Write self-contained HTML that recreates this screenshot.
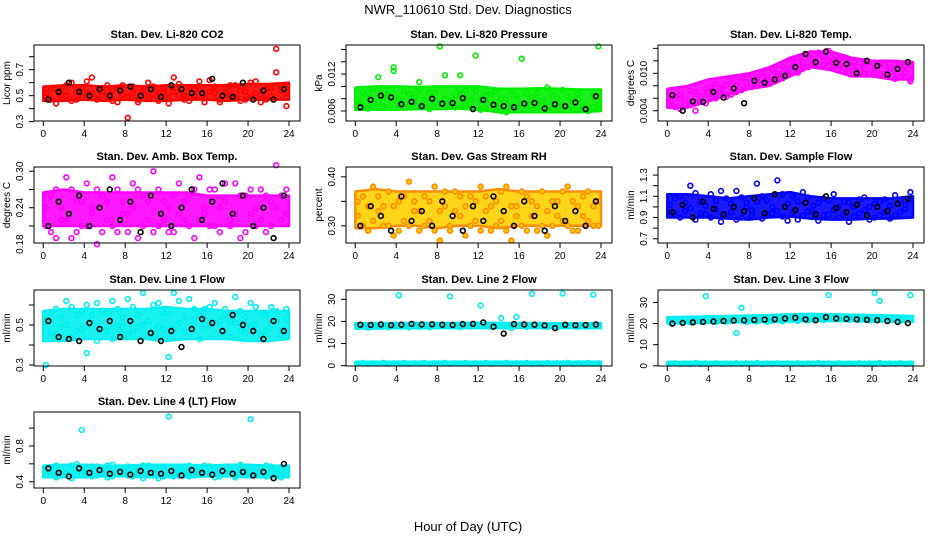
<!DOCTYPE html>
<html><head><meta charset="utf-8">
<style>
body{margin:0;background:#fff;}
svg{display:block;font-family:"Liberation Sans",Arial,sans-serif;}
</style></head>
<body>
<svg id="chart" width="936" height="540" viewBox="0 0 936 540">
<rect width="936" height="540" fill="#fff"/>
<text x="468" y="14" text-anchor="middle" font-size="13">NWR_110610  Std. Dev. Diagnostics</text>
<text x="468" y="531" text-anchor="middle" font-size="13">Hour of Day (UTC)</text>
</svg>
<script>
const hours48 = [0.25,0.75,1.25,1.75,2.25,2.75,3.25,3.75,4.25,4.75,5.25,5.75,6.25,6.75,7.25,7.75,8.25,8.75,9.25,9.75,10.25,10.75,11.25,11.75,12.25,12.75,13.25,13.75,14.25,14.75,15.25,15.75,16.25,16.75,17.25,17.75,18.25,18.75,19.25,19.75,20.25,20.75,21.25,21.75,22.25,22.75,23.25,23.75];
const hoursBlack = [0.5,1.5,2.5,3.5,4.5,5.5,6.5,7.5,8.5,9.5,10.5,11.5,12.5,13.5,14.5,15.5,16.5,17.5,18.5,19.5,20.5,21.5,22.5,23.5];
const bandHours = [0,2,4,6,8,10,12,14,16,18,20,22,24];
const xTicks = [0,4,8,12,16,20,24];

const co2A = [0.52,0.47,0.55,0.50,0.58,0.46,0.53,0.49,0.61,0.51,0.47,0.56,0.50,0.54,0.45,0.58,0.33,0.52,0.47,0.56,0.50,0.57,0.46,0.53,0.49,0.64,0.51,0.47,0.56,0.50,0.54,0.45,0.62,0.52,0.47,0.56,0.50,0.58,0.46,0.53,0.49,0.61,0.51,0.47,0.56,0.68,0.54,0.42];
const co2B = [0.49,0.56,0.44,0.54,0.50,0.60,0.47,0.55,0.52,0.64,0.48,0.53,0.58,0.46,0.55,0.51,0.49,0.57,0.45,0.54,0.60,0.48,0.52,0.56,0.44,0.53,0.59,0.50,0.46,0.55,0.61,0.48,0.53,0.57,0.45,0.52,0.58,0.49,0.54,0.47,0.60,0.52,0.45,0.55,0.50,0.86,0.57,0.49];
const co2K = [0.47,0.53,0.60,0.53,0.50,0.55,0.50,0.54,0.57,0.50,0.55,0.49,0.58,0.55,0.52,0.52,0.63,0.50,0.49,0.60,0.47,0.54,0.47,0.55];
const co2Lo = [0.46,0.46,0.47,0.46,0.47,0.46,0.46,0.47,0.47,0.46,0.47,0.47,0.47];
const co2Hi = [0.57,0.58,0.58,0.57,0.58,0.57,0.58,0.58,0.58,0.58,0.59,0.59,0.60];

const presA = [0.0075,0.0068,0.0088,0.0072,0.0115,0.0066,0.0085,0.0125,0.0070,0.0092,0.0069,0.0082,0.0107,0.0067,0.0090,0.0073,0.0165,0.0080,0.0068,0.0086,0.0118,0.0094,0.0066,0.0150,0.0078,0.0064,0.0088,0.0069,0.0080,0.0058,0.0067,0.0084,0.0145,0.0070,0.0082,0.0066,0.0076,0.0098,0.0064,0.0080,0.0070,0.0084,0.0063,0.0079,0.0068,0.0062,0.0066,0.0165];
const presB = [0.0070,0.0090,0.0064,0.0096,0.0074,0.0083,0.0094,0.0131,0.0080,0.0066,0.0088,0.0074,0.0095,0.0078,0.0063,0.0090,0.0072,0.0118,0.0076,0.0066,0.0088,0.0070,0.0079,0.0093,0.0062,0.0085,0.0074,0.0091,0.0060,0.0078,0.0092,0.0066,0.0073,0.0088,0.0063,0.0090,0.0070,0.0062,0.0086,0.0068,0.0094,0.0062,0.0075,0.0088,0.0066,0.0060,0.0085,0.0070];
const presK = [0.0066,0.0078,0.0085,0.0082,0.0071,0.0075,0.0068,0.0080,0.0072,0.0073,0.0081,0.0063,0.0078,0.0070,0.0068,0.0066,0.0072,0.0073,0.0064,0.0071,0.0068,0.0074,0.0063,0.0084];
const presLo = [0.0062,0.0062,0.0062,0.0063,0.0063,0.0064,0.0062,0.0058,0.0058,0.0058,0.0058,0.0058,0.0060];
const presHi = [0.0098,0.0100,0.0100,0.0099,0.0100,0.0100,0.0100,0.0096,0.0096,0.0097,0.0096,0.0095,0.0095];

const tempA = [0.0055,0.0046,0.0066,0.0050,0.0072,0.0040,0.0063,0.0052,0.0078,0.0060,0.0070,0.0082,0.0066,0.0080,0.0073,0.0086,0.0078,0.0090,0.0082,0.0095,0.0087,0.0099,0.0092,0.0104,0.0110,0.0101,0.0117,0.0110,0.0124,0.0115,0.0127,0.0120,0.0112,0.0122,0.0108,0.0118,0.0111,0.0102,0.0115,0.0099,0.0109,0.0097,0.0113,0.0102,0.0107,0.0094,0.0111,0.0090];
const tempB = [0.0048,0.0063,0.0043,0.0058,0.0049,0.0070,0.0055,0.0075,0.0067,0.0083,0.0075,0.0062,0.0090,0.0070,0.0092,0.0079,0.0097,0.0084,0.0101,0.0088,0.0106,0.0092,0.0111,0.0099,0.0119,0.0125,0.0110,0.0129,0.0117,0.0133,0.0113,0.0136,0.0121,0.0113,0.0126,0.0104,0.0119,0.0110,0.0099,0.0118,0.0103,0.0116,0.0099,0.0108,0.0091,0.0116,0.0101,0.0087];
const tempK = [0.0065,0.0040,0.0055,0.0054,0.0070,0.0061,0.0076,0.0052,0.0088,0.0085,0.0090,0.0096,0.0110,0.0131,0.0118,0.0135,0.0117,0.0115,0.0100,0.0120,0.0112,0.0098,0.0107,0.0118];
const tempLo = [0.0045,0.0045,0.0055,0.0065,0.0075,0.0080,0.0095,0.0110,0.0105,0.0095,0.0095,0.0090,0.0090];
const tempHi = [0.0075,0.0080,0.0090,0.0095,0.0100,0.0110,0.0125,0.0135,0.0135,0.0125,0.0120,0.0120,0.0118];

const ambA = [0.24,0.20,0.27,0.22,0.29,0.19,0.25,0.21,0.28,0.23,0.18,0.26,0.22,0.29,0.20,0.25,0.23,0.28,0.19,0.26,0.22,0.30,0.21,0.25,0.24,0.20,0.28,0.22,0.26,0.19,0.29,0.23,0.21,0.27,0.20,0.25,0.22,0.28,0.19,0.26,0.23,0.21,0.27,0.20,0.25,0.31,0.22,0.27];
const ambB = [0.21,0.26,0.19,0.24,0.22,0.27,0.20,0.25,0.21,0.24,0.27,0.20,0.25,0.21,0.27,0.23,0.20,0.24,0.27,0.21,0.25,0.20,0.27,0.22,0.20,0.26,0.23,0.25,0.21,0.27,0.22,0.24,0.27,0.21,0.24,0.28,0.21,0.23,0.26,0.20,0.27,0.24,0.22,0.26,0.21,0.24,0.26,0.23];
const ambK = [0.21,0.25,0.23,0.26,0.21,0.24,0.27,0.22,0.25,0.20,0.26,0.23,0.21,0.24,0.27,0.22,0.25,0.28,0.23,0.26,0.21,0.24,0.19,0.26];
const ambLo = [0.21,0.21,0.21,0.21,0.21,0.21,0.21,0.21,0.21,0.21,0.21,0.21,0.21];
const ambHi = [0.265,0.27,0.265,0.265,0.265,0.265,0.265,0.265,0.26,0.26,0.26,0.26,0.26];

const rhA = [0.32,0.36,0.29,0.38,0.33,0.30,0.37,0.28,0.35,0.31,0.39,0.33,0.29,0.36,0.31,0.38,0.27,0.34,0.30,0.37,0.32,0.28,0.36,0.31,0.38,0.33,0.29,0.35,0.31,0.38,0.27,0.34,0.30,0.36,0.32,0.29,0.37,0.33,0.30,0.35,0.31,0.38,0.29,0.34,0.32,0.37,0.30,0.35];
const rhB = [0.35,0.30,0.34,0.31,0.36,0.34,0.30,0.34,0.29,0.36,0.30,0.35,0.33,0.30,0.35,0.29,0.33,0.37,0.29,0.33,0.36,0.34,0.30,0.35,0.29,0.36,0.34,0.30,0.37,0.29,0.34,0.32,0.37,0.29,0.35,0.34,0.30,0.28,0.35,0.32,0.37,0.30,0.35,0.29,0.36,0.31,0.34,0.30];
const rhK = [0.30,0.34,0.32,0.29,0.36,0.31,0.33,0.30,0.35,0.32,0.29,0.34,0.31,0.36,0.33,0.30,0.35,0.32,0.29,0.34,0.31,0.33,0.30,0.35];
const rhLo = [0.295,0.295,0.30,0.30,0.295,0.30,0.30,0.295,0.30,0.30,0.30,0.30,0.30];
const rhHi = [0.37,0.375,0.37,0.37,0.37,0.37,0.37,0.375,0.37,0.37,0.37,0.37,0.37];

const sfA = [1.02,0.92,1.10,0.96,1.20,0.88,1.05,0.93,1.12,0.98,0.86,1.08,0.95,1.15,0.90,1.04,0.97,1.22,0.89,1.06,0.94,1.25,0.91,1.03,1.10,0.88,1.14,0.96,1.01,0.87,1.08,0.93,1.12,0.90,1.05,0.86,1.00,0.94,1.09,0.88,1.03,0.92,1.07,0.89,1.11,0.95,1.02,1.14];
const sfB = [0.95,1.08,0.90,1.04,0.99,1.13,0.94,1.01,0.90,1.06,1.15,0.93,1.03,0.88,1.09,1.00,0.92,1.05,1.10,0.94,1.00,0.96,1.12,0.87,0.95,1.05,0.92,1.09,0.95,1.04,0.92,1.06,0.97,1.00,0.93,1.04,0.91,1.07,0.97,1.00,0.90,1.05,0.95,1.01,0.92,1.06,0.98,1.07];
const sfK = [0.95,1.02,0.90,1.05,0.98,0.93,1.00,0.96,1.08,0.94,1.12,1.00,0.97,1.04,0.93,1.10,0.99,0.95,1.02,0.92,1.00,0.96,1.03,1.08];
const sfLo = [0.90,0.90,0.90,0.89,0.88,0.90,0.91,0.89,0.88,0.88,0.89,0.89,0.90];
const sfHi = [1.12,1.12,1.10,1.08,1.10,1.12,1.14,1.10,1.08,1.08,1.08,1.08,1.10];

const l1A = [0.52,0.46,0.58,0.49,0.62,0.44,0.55,0.48,0.60,0.51,0.42,0.57,0.47,0.62,0.50,0.54,0.45,0.59,0.49,0.66,0.52,0.44,0.61,0.48,0.56,0.66,0.51,0.47,0.63,0.53,0.43,0.58,0.50,0.61,0.46,0.55,0.52,0.64,0.47,0.54,0.49,0.59,0.45,0.55,0.50,0.57,0.47,0.53];
const l1B = [0.30,0.56,0.45,0.54,0.50,0.59,0.47,0.57,0.36,0.55,0.61,0.48,0.56,0.43,0.58,0.49,0.63,0.47,0.55,0.50,0.44,0.60,0.49,0.56,0.34,0.48,0.62,0.54,0.46,0.58,0.55,0.48,0.59,0.45,0.52,0.58,0.44,0.51,0.57,0.46,0.61,0.50,0.56,0.47,0.59,0.52,0.45,0.58];
const l1K = [0.52,0.44,0.43,0.42,0.51,0.48,0.52,0.44,0.52,0.42,0.46,0.42,0.47,0.39,0.48,0.53,0.51,0.47,0.55,0.50,0.47,0.43,0.52,0.47];
const l1Lo = [0.42,0.42,0.43,0.43,0.43,0.43,0.42,0.43,0.43,0.43,0.42,0.42,0.43];
const l1Hi = [0.57,0.58,0.58,0.58,0.58,0.58,0.59,0.58,0.58,0.57,0.57,0.57,0.57];

const l2A = [17.5,18.0,17.2,18.4,17.6,18.1,17.4,18.3,31.8,17.8,17.3,18.2,17.6,18.0,17.4,18.3,17.7,18.1,31.3,17.9,17.5,18.2,17.7,18.0,27.2,18.4,17.6,18.1,21.5,17.8,17.0,22.0,18.2,17.5,32.5,17.9,18.3,17.6,18.0,17.4,32.6,17.8,18.1,17.6,18.3,17.7,32.1,18.0];
const l2B = [1.0,1.2,0.9,1.1,1.0,1.3,0.9,1.1,1.0,1.2,0.9,1.1,1.0,1.2,0.9,1.1,1.0,1.3,0.9,1.1,1.0,1.2,0.9,1.1,1.0,1.2,0.9,1.1,1.0,1.3,0.9,1.1,1.0,1.2,0.9,1.1,1.0,1.2,0.9,1.1,1.0,1.3,0.9,1.1,1.0,1.2,0.9,1.1];
const l2K = [18.5,18.4,18.6,18.3,18.5,18.9,18.6,18.7,18.5,18.4,18.8,18.9,19.5,17.6,14.5,18.8,18.6,18.5,18.2,17.0,18.5,18.3,18.4,18.6];
const l2Lo = [16.8,16.8,16.9,16.9,17.0,17.0,17.0,17.0,17.1,17.0,17.0,17.0,17.0];
const l2Hi = [19.2,19.2,19.3,19.3,19.3,19.3,19.4,19.3,19.3,19.3,19.2,19.2,19.2];
const l2LowLo = [0.3,0.3,0.3,0.3,0.3,0.3,0.3,0.3,0.3,0.3,0.3,0.3,0.3];
const l2LowHi = [1.8,1.8,1.8,1.8,1.8,1.8,1.8,1.8,1.8,1.8,1.8,1.8,1.8];

const l3A = [20.5,21.4,20.8,21.6,20.6,21.2,21.0,33.0,21.3,20.7,21.5,20.9,21.2,15.5,27.5,20.8,21.4,21.0,21.6,20.9,21.3,21.7,21.1,22.5,21.8,21.2,22.4,21.5,22.0,22.6,21.7,33.5,22.8,22.0,22.4,21.8,22.3,21.7,22.1,21.6,34.5,30.8,22.0,21.5,21.9,21.3,21.7,33.5];
const l3B = [1.0,1.2,0.9,1.1,1.0,1.3,0.9,1.1,1.0,1.2,0.9,1.1,1.0,1.2,0.9,1.1,1.0,1.3,0.9,1.1,1.0,1.2,0.9,1.1,1.0,1.2,0.9,1.1,1.0,1.3,0.9,1.1,1.0,1.2,0.9,1.1,1.0,1.2,0.9,1.1,1.0,1.3,0.9,1.1,1.0,1.2,0.9,1.1];
const l3K = [20.0,20.3,20.6,20.8,21.0,21.2,21.4,21.5,21.7,21.9,22.0,22.4,22.8,22.0,21.6,23.0,22.4,22.2,22.0,21.8,21.6,21.2,20.8,20.2];
const l3Lo = [20.2,20.2,20.4,20.5,20.6,20.8,21.0,21.2,21.2,21.2,21.0,21.0,20.8];
const l3Hi = [23.0,23.2,23.4,23.6,23.8,24.0,24.4,24.6,24.4,24.2,24.0,23.8,23.6];
const l3LowLo = [0.3,0.3,0.3,0.3,0.3,0.3,0.3,0.3,0.3,0.3,0.3,0.3,0.3];
const l3LowHi = [1.8,1.8,1.8,1.8,1.8,1.8,1.8,1.8,1.8,1.8,1.8,1.8,1.8];

const l4A = [0.52,0.47,0.58,0.49,0.55,0.44,0.60,0.48,0.54,0.46,0.57,0.50,0.45,0.59,0.49,0.53,0.47,0.56,0.50,0.44,0.58,0.48,0.53,0.46,1.13,0.55,0.49,0.57,0.46,0.53,0.48,0.58,0.50,0.45,0.56,0.49,0.54,0.47,0.59,0.51,1.10,0.48,0.55,0.46,0.57,0.50,0.53,0.47];
const l4B = [0.48,0.55,0.45,0.56,0.50,0.58,0.47,0.98,0.50,0.57,0.47,0.53,0.58,0.46,0.55,0.50,0.57,0.46,0.53,0.58,0.48,0.55,0.44,0.57,0.50,0.46,0.56,0.51,0.58,0.47,0.55,0.49,0.57,0.52,0.46,0.56,0.50,0.45,0.54,0.48,0.56,0.51,0.47,0.58,0.49,0.55,0.45,0.56];
const l4K = [0.55,0.50,0.46,0.55,0.50,0.53,0.49,0.51,0.48,0.52,0.50,0.49,0.52,0.47,0.53,0.50,0.48,0.52,0.49,0.51,0.47,0.51,0.44,0.60];
const l4Lo = [0.45,0.45,0.45,0.46,0.46,0.45,0.45,0.45,0.46,0.46,0.45,0.45,0.45];
const l4Hi = [0.58,0.59,0.59,0.58,0.58,0.59,0.59,0.59,0.58,0.59,0.59,0.58,0.58];

const panels = [
 {name:'co2',title:'Stan. Dev. Li-820 CO2',ylab:'Licor ppm',col:0,row:0,dom:[0.305,0.89],ticks:[0.3,0.4,0.5,0.6,0.7,0.8],labels:[0.3,0.5,0.7],fmt:1,a:co2A,b:co2B,k:co2K,bands:[[co2Lo,co2Hi]],color:'#ff0000',fill:'none'},
 {name:'pressure',title:'Stan. Dev. Li-820 Pressure',ylab:'kPa',col:1,row:0,dom:[0.00437,0.01673],ticks:[0.004,0.006,0.008,0.010,0.012,0.014,0.016],labels:[0.006,0.012],fmt:3,a:presA,b:presB,k:presK,bands:[[presLo,presHi]],color:'#00ee00',fill:'none'},
 {name:'temp',title:'Stan. Dev. Li-820 Temp.',ylab:'degrees C',col:2,row:0,dom:[0.00235,0.01454],ticks:[0.004,0.006,0.008,0.010,0.012,0.014],labels:[0.004,0.010],fmt:3,a:tempA,b:tempB,k:tempK,bands:[[tempLo,tempHi]],color:'#ff00ff',fill:'none'},
 {name:'amb-box-temp',title:'Stan. Dev. Amb. Box Temp.',ylab:'degrees C',col:0,row:1,dom:[0.182,0.307],ticks:[0.18,0.21,0.24,0.27,0.30],labels:[0.18,0.24,0.30],fmt:2,a:ambA,b:ambB,k:ambK,bands:[[ambLo,ambHi]],color:'#ff00ff',fill:'none'},
 {name:'gas-rh',title:'Stan. Dev. Gas Stream RH',ylab:'percent',col:1,row:1,dom:[0.265,0.42],ticks:[0.30,0.35,0.40],labels:[0.30,0.40],fmt:2,a:rhA,b:rhB,k:rhK,bands:[[rhLo,rhHi]],color:'#ff8c00',fill:'#ffd000'},
 {name:'sample-flow',title:'Stan. Dev. Sample Flow',ylab:'ml/min',col:2,row:1,dom:[0.66,1.376],ticks:[0.7,0.8,0.9,1.0,1.1,1.2,1.3],labels:[0.7,0.9,1.1,1.3],fmt:1,a:sfA,b:sfB,k:sfK,bands:[[sfLo,sfHi]],color:'#0000ff',fill:'none'},
 {name:'line1-flow',title:'Stan. Dev. Line 1 Flow',ylab:'ml/min',col:0,row:2,dom:[0.295,0.675],ticks:[0.3,0.4,0.5,0.6],labels:[0.3,0.5],fmt:1,a:l1A,b:l1B,k:l1K,bands:[[l1Lo,l1Hi]],color:'#00eeee',fill:'none'},
 {name:'line2-flow',title:'Stan. Dev. Line 2 Flow',ylab:'ml/min',col:1,row:2,dom:[-0.14,34.2],ticks:[0,10,20,30],labels:[0,10,20,30],fmt:0,a:l2A,b:l2B,k:l2K,bands:[[l2Lo,l2Hi],[l2LowLo,l2LowHi]],color:'#00eeee',fill:'none'},
 {name:'line3-flow',title:'Stan. Dev. Line 3 Flow',ylab:'ml/min',col:2,row:2,dom:[-0.1,35.9],ticks:[0,10,20,30],labels:[0,10,20,30],fmt:0,a:l3A,b:l3B,k:l3K,bands:[[l3Lo,l3Hi],[l3LowLo,l3LowHi]],color:'#00eeee',fill:'none'},
 {name:'line4-flow',title:'Stan. Dev. Line 4 (LT) Flow',ylab:'ml/min',col:0,row:3,dom:[0.33,1.18],ticks:[0.4,0.6,0.8,1.0],labels:[0.4,0.8],fmt:1,a:l4A,b:l4B,k:l4K,bands:[[l4Lo,l4Hi]],color:'#00eeee',fill:'none'}
];

const NS='http://www.w3.org/2000/svg';
const svg=document.getElementById('chart');
const boxL=[34,346,658], boxT=[45,167,290,412], BW=266, BH=76;
function mk(tag,attrs,parent){const e=document.createElementNS(NS,tag);for(const k in attrs)e.setAttribute(k,attrs[k]);parent.appendChild(e);return e;}

panels.forEach(p=>{
  const L=boxL[p.col], T=boxT[p.row], B=T+BH;
  const xs=h=>L+9.3+h/24*245.7;
  const ys=v=>B-(v-p.dom[0])/(p.dom[1]-p.dom[0])*BH;
  const g=mk('g',{},svg);
  
  
  const t=mk('text',{x:L+BW/2,y:T-7,'text-anchor':'middle','font-size':'11','font-weight':'bold'},g);
  t.textContent=p.title;
  
  
  const yl=mk('text',{x:0,y:0,'text-anchor':'middle','font-size':'10',transform:`translate(${L-24},${T+BH/2}) rotate(-90)`},g);
  yl.textContent=p.ylab;
  
  
  p.bands.forEach(([lo,hi])=>{
    let pts=[];
    bandHours.forEach((h,i)=>pts.push(xs(h).toFixed(1)+','+ys(hi[i]).toFixed(1)));
    for(let i=bandHours.length-1;i>=0;i--)pts.push(xs(bandHours[i]).toFixed(1)+','+ys(lo[i]).toFixed(1));
    const poly=mk('polygon',{points:pts.join(' '),fill:p.fill!=='none'?p.fill:p.color,stroke:p.color,'stroke-width':2.5,'stroke-linejoin':'round','fill-opacity':0.9},g);
    
    
  });
  const draw=(hs,vals,stroke,fill,nm)=>{
    const pg=mk('g',{},g);
    
    
    vals.forEach((v,i)=>{
      const c=mk('circle',{cx:xs(hs[i]).toFixed(1),cy:ys(v).toFixed(1),r:2.4,fill:fill,stroke:stroke,'stroke-width':1.6},pg);
      
      
    });
  };
  draw(hours48,p.a,p.color,p.fill,'series-a-'+p.name);
  draw(hours48,p.b,p.color,p.fill,'series-b-'+p.name);
  draw(hoursBlack,p.k,'#000','none','hourly-mean-'+p.name);
  const bx=mk('rect',{x:L,y:T,width:BW,height:BH,fill:'none',stroke:'#000','stroke-width':1},g);
  
  
  xTicks.forEach(h=>{
    mk('line',{x1:xs(h),x2:xs(h),y1:B,y2:B+5,stroke:'#000'},g);
    const tl=mk('text',{x:xs(h),y:B+16,'text-anchor':'middle','font-size':'10'},g);
    tl.textContent=h;
    
    
  });
  p.ticks.forEach(v=>{const yy=ys(v); if(yy>=T-1&&yy<=B+1) mk('line',{x1:L-5,x2:L,y1:yy,y2:yy,stroke:'#000'},g);});
  p.labels.forEach(v=>{
    const tl=mk('text',{x:0,y:0,'text-anchor':'middle','font-size':'10',transform:`translate(${L-11},${ys(v).toFixed(1)}) rotate(-90)`},g);
    tl.textContent=v.toFixed(p.fmt);
    
    
  });
});
</script>
</body></html>
